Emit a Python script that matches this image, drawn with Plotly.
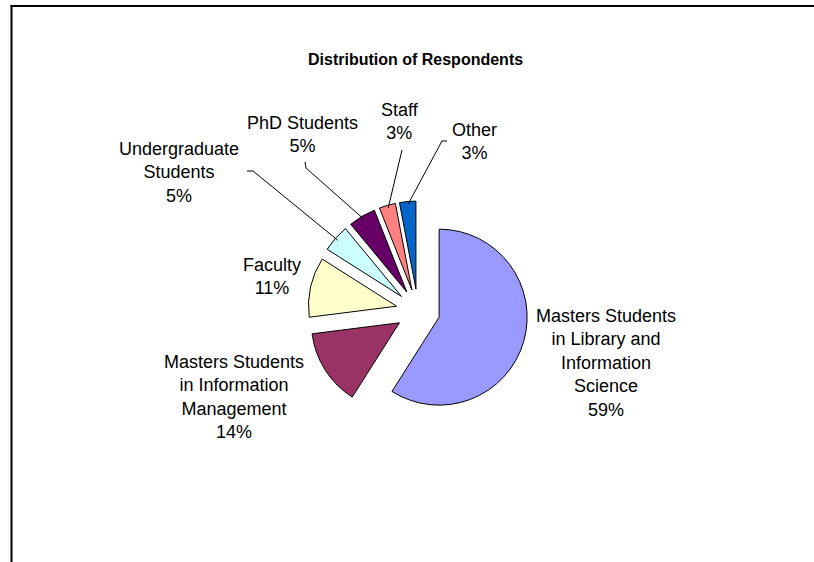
import math
import plotly.graph_objects as go

# ---- data ----
categories = [
    "Masters Students in Library and Information Science",
    "Masters Students in Information Management",
    "Faculty",
    "Undergraduate Students",
    "PhD Students",
    "Staff",
    "Other",
]
label_text = [
    "Masters Students<br>in Library and<br>Information<br>Science",
    "Masters Students<br>in Information<br>Management",
    "Faculty",
    "Undergraduate<br>Students",
    "PhD Students",
    "Staff",
    "Other",
]
values = [59, 14, 11, 5, 5, 3, 3]
colors = ["#9999FF", "#993366", "#FFFFCC", "#CCFFFF", "#660066", "#FF8080", "#0066CC"]
title_text = "Distribution of Respondents"

# ---- layout (pixels) ----
W, H = 814, 562
CX, CY, R, PULL = 418, 311, 88, 0.25
HALF = R * (1 + PULL)
FONT = "Liberation Sans, Arial, sans-serif"

# label centres and leader-line stubs (label side), in pixels
label_pos = [(606, 363), (234, 397), (272, 276), (179, 172), (302, 134), (400, 122), (474, 141)]
stubs = [None, None, None,
         [(247, 171), (253, 171)],
         [(305, 162), (306, 168)],
         [(402, 150)],
         [(447, 141), (442, 141)]]


def px(x):
    return x / W


def py(y):
    return 1 - y / H


fig = go.Figure(
    go.Pie(
        labels=categories,
        values=values,
        sort=False,
        direction="clockwise",
        rotation=0,
        pull=PULL,
        marker=dict(colors=colors, line=dict(color="black", width=1)),
        textinfo="none",
        hoverinfo="label+percent",
        showlegend=False,
        domain=dict(x=[px(CX - HALF), px(CX + HALF)], y=[py(CY + HALF), py(CY - HALF)]),
    )
)

total = sum(values)
annotations = []
shapes = []

# title
annotations.append(dict(
    x=px(415), y=py(59), xref="paper", yref="paper", text="<b>%s</b>" % title_text,
    showarrow=False, xanchor="center", yanchor="middle",
    font=dict(family=FONT, size=16, color="black"),
))

cum = 0
for i, v in enumerate(values):
    pct = round(100 * v / total)
    lx, ly = label_pos[i]
    annotations.append(dict(
        x=px(lx), y=py(ly), xref="paper", yref="paper",
        text="%s<br>%d%%" % (label_text[i], pct),
        showarrow=False, xanchor="center", yanchor="middle", align="center",
        font=dict(family=FONT, size=18, color="black"),
    ))
    theta = math.radians(360 * (cum + v / 2) / total)
    cum += v
    if stubs[i]:
        dist = HALF - 3
        ex = CX + dist * math.sin(theta)
        ey = CY - dist * math.cos(theta)
        pts = stubs[i] + [(ex, ey)]
        for (x0, y0), (x1, y1) in zip(pts[:-1], pts[1:]):
            shapes.append(dict(type="line", xref="paper", yref="paper",
                               x0=px(x0), y0=py(y0), x1=px(x1), y1=py(y1),
                               line=dict(color="black", width=1)))

# chart frame (top and left edges visible)
shapes.append(dict(type="line", xref="paper", yref="paper", x0=px(10.5), y0=py(6), x1=1.0, y1=py(6),
                   line=dict(color="black", width=2)))
shapes.append(dict(type="line", xref="paper", yref="paper", x0=px(11.5), y0=py(5), x1=px(11.5), y1=0,
                   line=dict(color="black", width=2)))

fig.update_layout(
    width=W, height=H,
    margin=dict(l=0, r=0, t=0, b=0),
    paper_bgcolor="white", plot_bgcolor="white",
    font=dict(family=FONT, color="black"),
    annotations=annotations,
    shapes=shapes,
    showlegend=False,
)

fig.write_html(
    "out.html",
    config={"displayModeBar": False},
    post_script="document.body.style.margin='0px'; document.body.style.overflow='hidden';",
)
